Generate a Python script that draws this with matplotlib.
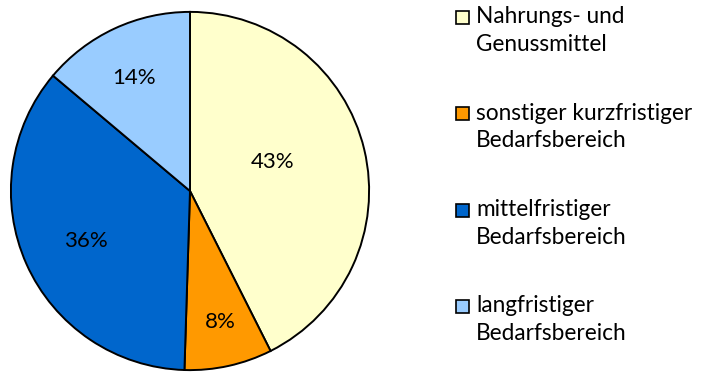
import matplotlib
matplotlib.use("Agg")
import matplotlib.pyplot as plt
from matplotlib.patches import Rectangle

# shares of retail sales by demand category (percent)
categories = ["Nahrungs- und\nGenussmittel",
              "sonstiger kurzfristiger\nBedarfsbereich",
              "mittelfristiger\nBedarfsbereich",
              "langfristiger\nBedarfsbereich"]
shares = [43, 8, 36, 14]
colors = ["#FFFFCC", "#FF9900", "#0066CC", "#99CCFF"]

# label positions inside the pie (unit circle coordinates)
label_pos = [(0.46, 0.16), (0.17, -0.73), (-0.58, -0.28), (-0.31, 0.63)]

plt.rcParams["font.family"] = ["Lato", "DejaVu Sans"]

W, H = 701, 372
fig = plt.figure(figsize=(W / 100, H / 100), dpi=100)
ax = fig.add_axes([10 / W, 1 / H, 360 / W, 360 / H])

wedges, _ = ax.pie(shares, colors=colors, startangle=90, counterclock=False,
                   radius=1.0,
                   wedgeprops=dict(edgecolor="black", linewidth=1.4))
for (x, y), v in zip(label_pos, shares):
    ax.text(x, y, f"{v}%", ha="center", va="center", fontsize=16)
ax.set_xlim(-1.005, 1.005)
ax.set_ylim(-1.005, 1.005)
ax.set_aspect("equal")
ax.axis("off")

# legend drawn by hand: square marker plus two-line label
for i, (lab, col) in enumerate(zip(categories, colors)):
    yc = 17 + i * 96.5
    fig.patches.append(Rectangle((456 / W, 1 - (yc + 6.5) / H), 13 / W, 13 / H,
                                 transform=fig.transFigure, facecolor=col,
                                 edgecolor="black", linewidth=1.2))
    fig.text(476 / W, 1 - (yc - 11) / H, lab, ha="left", va="top",
             fontsize=16.3, linespacing=1.4)

fig.savefig("out.png", dpi=100)
